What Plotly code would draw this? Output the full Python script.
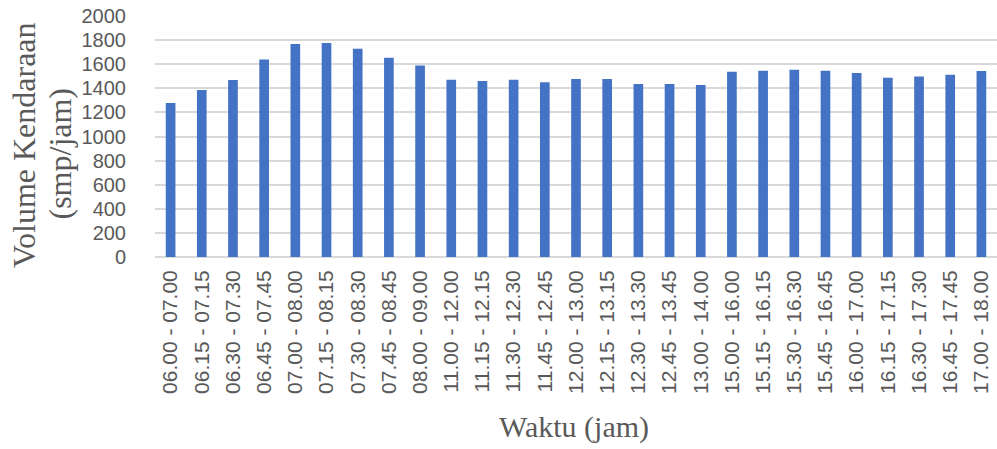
import plotly.graph_objects as go

categories = ["06.00 - 07.00", "06.15 - 07.15", "06.30 - 07.30", "06.45 - 07.45",
              "07.00 - 08.00", "07.15 - 08.15", "07.30 - 08.30", "07.45 - 08.45",
              "08.00 - 09.00", "11.00 - 12.00", "11.15 - 12.15", "11.30 - 12.30",
              "11.45 - 12.45", "12.00 - 13.00", "12.15 - 13.15", "12.30 - 13.30",
              "12.45 - 13.45", "13.00 - 14.00", "15.00 - 16.00", "15.15 - 16.15",
              "15.30 - 16.30", "15.45 - 16.45", "16.00 - 17.00", "16.15 - 17.15",
              "16.30 - 17.30", "16.45 - 17.45", "17.00 - 18.00"]
volume = [1277, 1385, 1468, 1640, 1767, 1776, 1728, 1653, 1590,
          1471, 1460, 1471, 1451, 1477, 1477, 1435, 1435, 1427,
          1538, 1545, 1554, 1545, 1526, 1487, 1498, 1512, 1543]
y_ticks = [0, 200, 400, 600, 800, 1000, 1200, 1400, 1600, 1800, 2000]

fig = go.Figure(go.Bar(x=categories, y=volume, marker_color="#4472C4",
                       marker_line_width=0, width=0.31))

title_font = dict(family="Liberation Serif", size=30, color="#595959")
ytitle_font = dict(family="Liberation Serif", size=32, color="#595959")

fig.update_layout(
    width=997, height=449,
    margin=dict(l=155, r=0, t=16, b=192),
    plot_bgcolor="white", paper_bgcolor="white",
    showlegend=False,
    font=dict(family="Liberation Sans", color="#595959"),
    xaxis=dict(tickangle=-90, tickfont=dict(size=21, color="#595959"),
               showgrid=False, showline=False, ticks="", range=[-0.5, 26.5],
               ticklabelstandoff=8),
    yaxis=dict(range=[0, 2000], tickvals=y_ticks, tickfont=dict(size=20, color="#595959"),
               showgrid=True, gridcolor="#d9d9d9", gridwidth=1.5, zeroline=True,
               zerolinecolor="#d9d9d9", zerolinewidth=1.5, ticks="", ticklabelstandoff=28),
    annotations=[
        dict(text="Waktu (jam)", xref="paper", yref="paper", x=0.4976, y=-0.705,
             xanchor="center", yanchor="middle", showarrow=False, font=title_font),
        dict(text="Volume Kendaraan", xref="paper", yref="paper",
             x=-0.1556, y=0.4647, textangle=-90, xanchor="center", yanchor="middle",
             showarrow=False, font=ytitle_font),
        dict(text="(smp/jam)", xref="paper", yref="paper",
             x=-0.1128, y=0.4295, textangle=-90, xanchor="center", yanchor="middle",
             showarrow=False, font=ytitle_font),
    ],
)

fig.write_html("out.html", config={"displayModeBar": False},
               post_script="document.body.style.margin='0px';")
